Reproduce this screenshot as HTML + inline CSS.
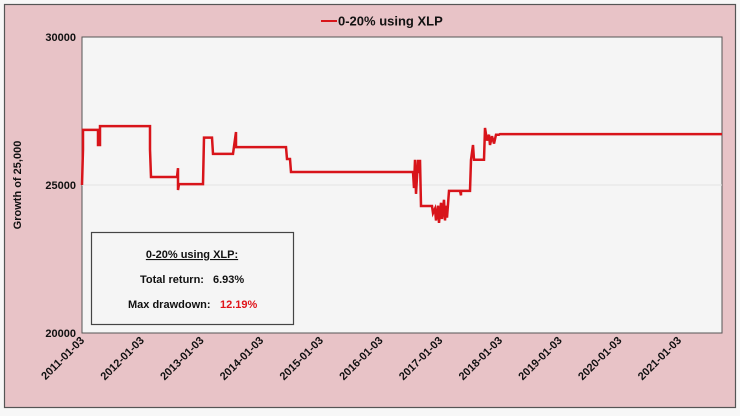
<!DOCTYPE html>
<html><head><meta charset="utf-8"><style>
html,body{margin:0;padding:0;background:#f7f7f7;}
svg{display:block;font-family:"Liberation Sans",Arial,sans-serif;}
</style></head><body>
<svg id="chart" width="740" height="416" viewBox="0 0 740 416">
<rect x="4.5" y="4.5" width="731" height="403" fill="#e8c3c7" stroke="#555" stroke-width="1.2"/>
<rect x="82" y="37" width="640" height="296" fill="#f5f5f5" stroke="#555" stroke-width="1"/>
<g id="grid"></g>
<g id="yticks"></g>
<g id="xticks"></g>
<path id="series" fill="none" stroke="#d8141a" stroke-width="2.5" stroke-linejoin="miter"/>
<g>
<line x1="321" y1="21" x2="337" y2="21" stroke="#d8141a" stroke-width="2"/>
<text x="338" y="25.5" font-size="13" font-weight="bold" fill="#111">0-20% using XLP</text>
</g>
<text transform="translate(21,185) rotate(-90)" text-anchor="middle" font-size="11" font-weight="bold" fill="#111">Growth of 25,000</text>
<g>
<rect x="91.5" y="232.5" width="202" height="92" fill="#f5f5f5" stroke="#444" stroke-width="1.2"/>
<text x="192" y="258" text-anchor="middle" font-size="11" font-weight="bold" fill="#111" text-decoration="underline">0-20% using XLP:</text>
<text y="283" font-size="11" font-weight="bold" fill="#111"><tspan x="140">Total return:</tspan><tspan x="213">6.93%</tspan></text>
<text y="308" font-size="11" font-weight="bold" fill="#111"><tspan x="128">Max drawdown:</tspan><tspan x="220" fill="#e0141a">12.19%</tspan></text>
</g>
</svg>
<script>
const dates=[2011.0,2011.017,2011.017,2011.268,2011.268,2011.302,2011.302,2012.139,2012.139,2012.156,2012.591,2012.608,2012.608,2012.625,2013.027,2013.044,2013.178,2013.194,2013.529,2013.546,2013.580,2013.580,2014.417,2014.434,2014.484,2014.501,2016.544,2016.561,2016.578,2016.595,2016.628,2016.645,2016.662,2016.678,2016.863,2016.879,2016.913,2016.930,2016.963,2016.980,2017.013,2017.030,2017.064,2017.080,2017.097,2017.114,2017.147,2017.332,2017.348,2017.348,2017.499,2017.516,2017.549,2017.566,2017.734,2017.750,2017.784,2017.817,2017.834,2017.868,2017.901,2017.935,2017.985,2018.002,2021.72];
const values=[25000,26200,26860,26860,26350,26350,26990,26990,26200,25270,25270,25570,24830,25030,25030,26600,26600,26050,26050,26300,26790,26280,26280,25880,25880,25440,25440,24900,25850,24700,25850,25400,25850,24290,24290,24050,24200,23800,24300,23720,24400,23850,24500,23800,24300,23900,24800,24800,24650,24800,24800,25850,26350,25850,25850,26930,26500,26700,26350,26650,26400,26700,26700,26720,26720];
const yTicks=[20000,25000,30000];
const xTickLabels=["2011-01-03","2012-01-03","2013-01-03","2014-01-03","2015-01-03","2016-01-03","2017-01-03","2018-01-03","2019-01-03","2020-01-03","2021-01-03"];
const xTickYears=[2011,2012,2013,2014,2015,2016,2017,2018,2019,2020,2021];

const NS="http://www.w3.org/2000/svg";
const X=v=>82+(v-2011)*59.7;
const Y=v=>333-(v-20000)/10000*296;
const yt=document.getElementById('yticks'),gr=document.getElementById('grid'),xt=document.getElementById('xticks');
yTicks.forEach(v=>{
  const t=document.createElementNS(NS,'text');
  
  
  t.setAttribute('x',76);t.setAttribute('y',Y(v)+4);t.setAttribute('text-anchor','end');
  t.setAttribute('font-size','11');t.setAttribute('font-weight','bold');t.setAttribute('fill','#111');
  t.textContent=v;yt.appendChild(t);
  if(v>20000&&v<30000){
    const l=document.createElementNS(NS,'line');
    
    
    l.setAttribute('x1',82);l.setAttribute('x2',722);l.setAttribute('y1',Y(v));l.setAttribute('y2',Y(v));
    l.setAttribute('stroke','#e2e2e2');l.setAttribute('stroke-width','1');gr.appendChild(l);
  }
});
xTickLabels.forEach((s,i)=>{
  const t=document.createElementNS(NS,'text');
  
  
  const x=X(xTickYears[i])+3,y=341;
  t.setAttribute('transform','translate('+x+','+y+') rotate(-45)');
  t.setAttribute('text-anchor','end');t.setAttribute('font-size','11');t.setAttribute('font-weight','bold');t.setAttribute('fill','#111');
  t.textContent=s;xt.appendChild(t);
});
let d='';
dates.forEach((v,i)=>{d+=(i?'L':'M')+X(v).toFixed(1)+','+Y(values[i]).toFixed(1);});
document.getElementById('series').setAttribute('d',d);
</script>
</body></html>
